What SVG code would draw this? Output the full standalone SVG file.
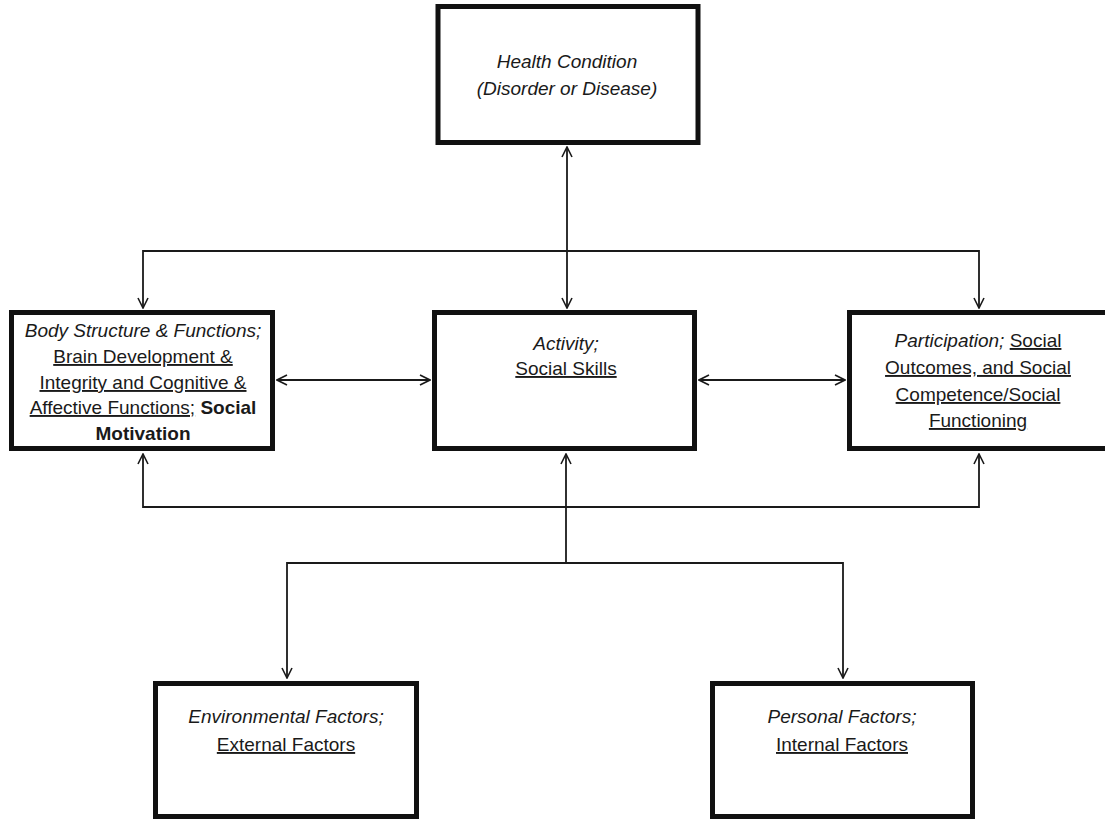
<svg xmlns="http://www.w3.org/2000/svg" width="1105" height="820" viewBox="0 0 1105 820">
<defs>
<marker id="arr" viewBox="0 0 12 12" refX="11" refY="6" markerWidth="12" markerHeight="12" markerUnits="userSpaceOnUse" orient="auto-start-reverse">
<path d="M1,1 L11,6 L1,11" fill="none" stroke="#1a1a1a" stroke-width="1.6"/>
</marker>
<style>
.box{fill:#fff;stroke:#111;stroke-width:5}
.ln{fill:none;stroke:#1a1a1a;stroke-width:1.8}
text{font-family:"Liberation Sans",Arial,sans-serif;font-size:19px;fill:#1a1a1a;text-anchor:middle}
.i{font-style:italic}
.u{text-decoration:underline}
.b{font-weight:bold}
</style>
</defs>
<rect width="1105" height="820" fill="#fff"/>
<g id="connectors">
<path class="ln" d="M567,147 V308" marker-start="url(#arr)" marker-end="url(#arr)"/>
<path class="ln" d="M143,308 V251 H979 V308" marker-start="url(#arr)" marker-end="url(#arr)"/>
<path class="ln" d="M277,380 H430" marker-start="url(#arr)" marker-end="url(#arr)"/>
<path class="ln" d="M699,380 H845" marker-start="url(#arr)" marker-end="url(#arr)"/>
<path class="ln" d="M143,454 V507 H979 V454" marker-start="url(#arr)" marker-end="url(#arr)"/>
<path class="ln" d="M566,563 V454" marker-end="url(#arr)"/>
<path class="ln" d="M287,678 V563 H843 V678" marker-start="url(#arr)" marker-end="url(#arr)"/>
</g>
<g id="health">
<rect class="box" x="438" y="6.5" width="260" height="136"/>
<text x="567" y="68" class="i">Health Condition</text>
<text x="567" y="95" class="i">(Disorder or Disease)</text>
</g>
<g id="body">
<rect class="box" x="11.5" y="312.5" width="261" height="136"/>
<text x="143" y="337" class="i">Body Structure &amp; Functions;</text>
<text x="143" y="363" class="u">Brain Development &amp;</text>
<text x="143" y="389" class="u">Integrity and Cognitive &amp;</text>
<text x="143" y="414"><tspan class="u">Affective Functions;</tspan> <tspan class="b">Social</tspan></text>
<text x="143" y="440" class="b">Motivation</text>
</g>
<g id="activity">
<rect class="box" x="434.5" y="312.5" width="260" height="136"/>
<text x="566" y="350" class="i">Activity;</text>
<text x="566" y="375" class="u">Social Skills</text>
</g>
<g id="participation">
<rect class="box" x="849.5" y="312.5" width="262" height="136"/>
<text x="978" y="347"><tspan class="i">Participation;</tspan> <tspan class="u">Social</tspan></text>
<text x="978" y="374" class="u">Outcomes, and Social</text>
<text x="978" y="401" class="u">Competence/Social</text>
<text x="978" y="427" class="u">Functioning</text>
</g>
<g id="environmental">
<rect class="box" x="155.5" y="683.5" width="261" height="133"/>
<text x="286" y="723" class="i">Environmental Factors;</text>
<text x="286" y="751" class="u">External Factors</text>
</g>
<g id="personal">
<rect class="box" x="712.5" y="683.5" width="260" height="133"/>
<text x="842" y="723" class="i">Personal Factors;</text>
<text x="842" y="751" class="u">Internal Factors</text>
</g>
</svg>
